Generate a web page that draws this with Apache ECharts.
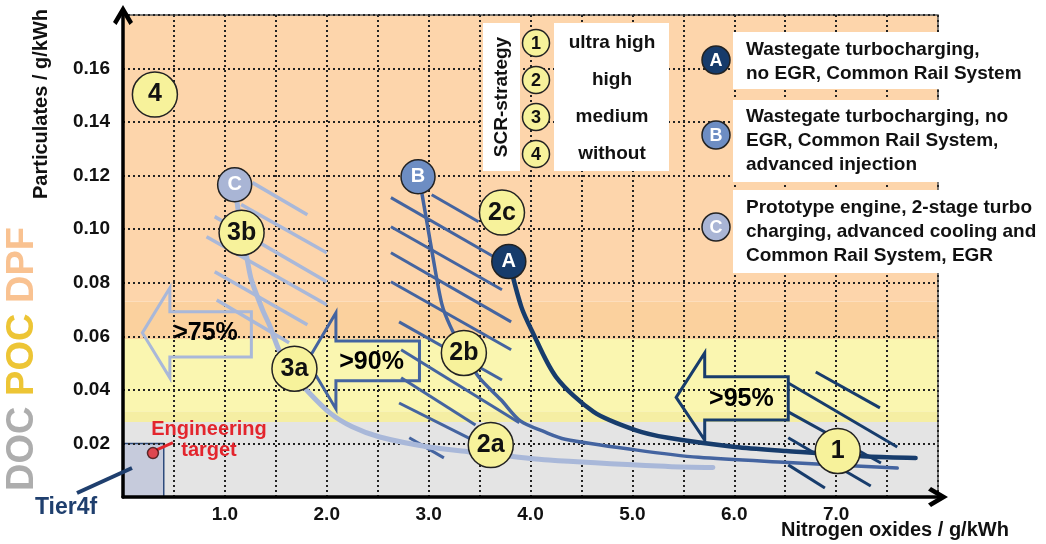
<!DOCTYPE html>
<html><head><meta charset="utf-8">
<script src="https://cdn.jsdelivr.net/npm/echarts@6/dist/echarts.min.js"></script>
<style>html,body{margin:0;padding:0;background:#fff}#c{width:1046px;height:544px}</style>
</head><body><div id="c"></div>
<script>
// ---------- data ----------
const xTickLabels = [1, 2, 3, 4, 5, 6, 7];
const yTickLabels = [0.02, 0.04, 0.06, 0.08, 0.10, 0.12, 0.14, 0.16];

// particulate bands (y ranges) : gray / yellow / yellow / orange / orange
const bandEdges = [0, 0.028, 0.032, 0.059, 0.073, 0.18];
const bandColors = ['#E4E4E4', '#F5EEA3', '#FAF6B0', '#FBD19E', '#FDD5AB'];
const tier4fBox = [[0, 0], [0.4, 0.02]];
const engineeringTarget = [0.294, 0.0164];
const engineeringPointer = [[0.33, 0.0176], [0.49, 0.0203]];

// engine curves (NOx, PM)
const curveA = [[3.79,0.0879],[3.91,0.0710],[4.01,0.0624],[4.25,0.0449],[4.62,0.0318],[5.03,0.0250],[5.35,0.0221],[6.01,0.0187],[6.51,0.0172],[7.31,0.0151],[7.78,0.0146]];
const curveB = [[2.90,0.1196],[2.94,0.1121],[3.03,0.0923],[3.13,0.0720],[3.21,0.0640],[3.35,0.0538],[3.49,0.0449],[3.71,0.0363],[3.90,0.0284],[4.14,0.0243],[4.34,0.0216],[5.03,0.0176],[5.65,0.0148],[6.53,0.0129],[7.60,0.0108]];
const curveC = [[1.10,0.1166],[1.16,0.0987],[1.21,0.0905],[1.26,0.0811],[1.37,0.0699],[1.44,0.0640],[1.53,0.0550],[1.66,0.0462],[1.80,0.0400],[2.03,0.0314],[2.25,0.0262],[2.52,0.0224],[3.00,0.0187],[3.43,0.0168],[4.18,0.0138],[5.35,0.0114],[5.79,0.0110]];

// hatch segments
const hatchA = [[[6.80,0.0467],[7.43,0.0333]],[[6.53,0.0426],[7.60,0.0187]],[[6.53,0.0318],[7.44,0.0127]],[[6.53,0.0221],[7.34,0.0041]],[[6.53,0.0120],[6.89,0.0034]]];
const hatchB = [[[3.03,0.1129],[3.49,0.1028]],[[2.63,0.1118],[3.64,0.0897]],[[2.63,0.1009],[3.72,0.0774]],[[2.63,0.0912],[3.81,0.0654]],[[2.63,0.0804],[3.81,0.0550]],[[2.71,0.0654],[3.72,0.0437]],[[2.73,0.0550],[3.89,0.0277]],[[2.73,0.0445],[3.46,0.0269]],[[2.71,0.0351],[3.43,0.0213]],[[2.81,0.0221],[3.15,0.0146]]];
const hatchC = [[[1.27,0.1174],[1.81,0.1054]],[[1.16,0.1092],[2.00,0.0912]],[[0.90,0.1047],[2.00,0.0804]],[[0.82,0.0972],[2.00,0.0718]],[[0.90,0.0841],[1.81,0.0643]],[[0.92,0.0736],[1.63,0.0576]]];

// reduction arrows (outline polygons)
const arrow75 = [[0.19,0.0613],[0.46,0.0781],[0.46,0.0692],[1.26,0.0692],[1.26,0.0523],[0.46,0.0523],[0.46,0.0445]];
const arrow90 = [[1.81,0.0508],[2.09,0.0688],[2.09,0.0583],[2.91,0.0583],[2.91,0.0434],[2.09,0.0434],[2.09,0.0329]];
const arrow95 = [[5.43,0.0372],[5.71,0.0538],[5.71,0.0449],[6.53,0.0449],[6.53,0.0288],[5.71,0.0288],[5.71,0.0213]];
const arrowLabels = [['>75%',0.81,0.0613],['>90%',2.44,0.0503],['>95%',6.07,0.0366]];

// SCR strategy markers and engine markers
const scrMarks = [['4',0.313,0.1503],['3b',1.164,0.0987],['3a',1.683,0.0479],['2c',3.72,0.1062],['2b',3.346,0.0538],['2a',3.61,0.0194],['1',7.016,0.0172]];
const engineMarks = [['C',1.096,0.1166],['B',2.896,0.1196],['A',3.787,0.0879]];

const scrLegend = ['ultra high', 'high', 'medium', 'without'];
const engineLegend = [
  ['A', 'Wastegate turbocharging,\nno EGR, Common Rail System'],
  ['B', 'Wastegate turbocharging, no\nEGR, Common Rail System,\nadvanced injection'],
  ['C', 'Prototype engine, 2-stage turbo\ncharging, advanced cooling and\nCommon Rail System, EGR']
];

// ---------- styles ----------
const FONT = "'Liberation Sans', Arial, Helvetica, sans-serif";
const colA = '#173C6C', colB = '#4464A0', colC = '#A9B8D9';
const fillA = '#163B6B', fillB = '#6D8DC3', fillC = '#A9B5D5';
const yellow = '#F7F29B';
const ARROW = 'path://M10,0 L20,17 L16.5,20 L10,9 L3.5,20 L0,17 Z';

const chart = echarts.init(document.getElementById('c'), null, {renderer: 'canvas'});

function isInt(v) { return Math.abs(v - Math.round(v)) < 1e-6; }

const bandAreas = bandColors.map((c, i) => [
  {xAxis: 0, yAxis: bandEdges[i], itemStyle: {color: c}},
  {xAxis: 8, yAxis: bandEdges[i + 1]}
]);
bandAreas.push([
  {coord: tier4fBox[0], itemStyle: {color: '#C6CBDC', borderColor: '#2D4B7C', borderWidth: 1.5}},
  {coord: tier4fBox[1]}
]);

function polygonSeries(pts, color, width) {
  return {
    type: 'custom', coordinateSystem: 'cartesian2d', silent: true, z: 5, clip: false,
    data: [0],
    renderItem: function (params, api) {
      return {type: 'polygon', shape: {points: pts.map(p => api.coord(p))},
        style: {fill: 'none', stroke: color, lineWidth: width, lineJoin: 'miter'}};
    }
  };
}
function hatchSeries(segs, color, width) {
  return {type: 'lines', coordinateSystem: 'cartesian2d', silent: true, z: 4, polyline: false,
    data: segs.map(s => ({coords: s})),
    lineStyle: {color: color, width: width, opacity: 1, curveness: 0}, effect: {show: false}};
}
function curveSeries(d, color, width) {
  return {type: 'line', data: d, symbol: 'none', smooth: 0.3, silent: true, z: 5,
    lineStyle: {color: color, width: width, cap: 'round', join: 'round'}};
}

const graphic = [];
const G = (o) => { o.z = 100; graphic.push(o); };
function txt(x, y, text, size, color, opts) {
  const o = Object.assign({type: 'text', x: x, y: y, style: {
    text: text, fill: color, font: 'bold ' + size + 'px ' + FONT,
    align: 'center', verticalAlign: 'middle', textAlign: 'center', textVerticalAlign: 'middle'}}, opts || {});
  G(o);
}
// axis titles
txt(41, 104, 'Particulates / g/kWh', 20, '#111', {rotation: Math.PI / 2});
txt(895, 530, 'Nitrogen oxides / g/kWh', 20, '#111');
// DOC POC DPF
G({type: 'text', x: 23, y: 359, rotation: Math.PI / 2, style: {
  text: '{a|DOC} {b|POC} {c|DPF}', font: 'bold 38px ' + FONT, fill: '#AFAFAF',
  align: 'center', verticalAlign: 'middle', textAlign: 'center', textVerticalAlign: 'middle',
  rich: {a: {fill: '#ADADAD', font: 'bold 38px ' + FONT},
         b: {fill: '#EDC535', font: 'bold 38px ' + FONT},
         c: {fill: '#F9C291', font: 'bold 38px ' + FONT}}}});
// Tier4f
txt(66, 508, 'Tier4f', 23, '#1F3F6E');
G({type: 'line', shape: {x1: 77, y1: 493, x2: 132, y2: 468}, style: {stroke: '#1F3F6E', lineWidth: 4}});
// Engineering target
G({type: 'text', x: 209, y: 440, style: {text: 'Engineering\ntarget', fill: '#E3252D',
  font: 'bold 20px ' + FONT, lineHeight: 21, align: 'center', verticalAlign: 'middle', textAlign: 'center', textVerticalAlign: 'middle'}});
// SCR legend
G({type: 'rect', shape: {x: 483, y: 23, width: 37, height: 148}, style: {fill: '#fff'}});
G({type: 'rect', shape: {x: 554, y: 23, width: 115, height: 148}, style: {fill: '#fff'}});
txt(502, 97, 'SCR-strategy', 19, '#111', {rotation: Math.PI / 2});
const scrLegendY = [43, 80, 117, 154];
scrLegend.forEach((s, i) => {
  G({type: 'circle', shape: {cx: 536, cy: scrLegendY[i], r: 13.5}, style: {fill: yellow, stroke: '#222', lineWidth: 1.5}});
  txt(536, scrLegendY[i] + 1, String(i + 1), 18, '#111');
  txt(612, scrLegendY[i], s, 19, '#111');
});
// engine legend
const engBox = [[32, 57], [100, 82], [190, 83]];
const engCy = [60, 135, 227];
const engTy = [62, 141, 232];
const engFill = {A: fillA, B: fillB, C: fillC};
engineLegend.forEach((e, i) => {
  G({type: 'rect', shape: {x: 733, y: engBox[i][0], width: 320, height: engBox[i][1]}, style: {fill: '#fff'}});
  G({type: 'circle', shape: {cx: 716, cy: engCy[i], r: 14}, style: {fill: engFill[e[0]], stroke: '#222', lineWidth: 1.5}});
  txt(716, engCy[i] + 1, e[0], 18, '#fff');
  G({type: 'text', x: 746, y: engTy[i], style: {text: e[1], fill: '#111', font: 'bold 19px ' + FONT,
    lineHeight: 24, align: 'left', verticalAlign: 'middle', textAlign: 'left', textVerticalAlign: 'middle'}});
});

const option = {
  animation: false,
  graphic: graphic,
  grid: {left: 123, right: 108, top: 15, bottom: 47, show: true, borderColor: '#555', borderWidth: 1.5,
    backgroundColor: 'transparent', z: 3},
  xAxis: {
    type: 'value', min: 0, max: 8, interval: 0.5, z: 3,
    axisLine: {show: true, onZero: false, symbol: ['none', ARROW], symbolSize: [20, 20],
      lineStyle: {color: '#000', width: 3.5}},
    axisTick: {show: false},
    axisLabel: {margin: 8, color: '#111', fontSize: 19, fontWeight: 'bold', fontFamily: FONT,
      formatter: v => (isInt(v) && xTickLabels.indexOf(Math.round(v)) >= 0) ? v.toFixed(1) : ''},
    splitLine: {show: true, lineStyle: {color: '#222', width: 2, type: [2, 3]}}
  },
  yAxis: {
    type: 'value', min: 0, max: 0.18, interval: 0.02, z: 3,
    axisLine: {show: true, onZero: false, symbol: ['none', ARROW], symbolSize: [20, 20],
      lineStyle: {color: '#000', width: 3.5}},
    axisTick: {show: false},
    axisLabel: {margin: 13, color: '#111', fontSize: 19, fontWeight: 'bold', fontFamily: FONT,
      formatter: v => yTickLabels.some(t => Math.abs(t - v) < 1e-6) ? v.toFixed(2) : ''},
    splitLine: {show: true, lineStyle: {color: '#222', width: 2, type: [2, 3]}}
  },
  series: [
    {type: 'line', data: [[0, 0]], symbol: 'none', silent: true, z: 1, lineStyle: {width: 0, opacity: 0},
      markArea: {silent: true, data: bandAreas}},
    hatchSeries(hatchC, colC, 3.5),
    hatchSeries(hatchB, colB, 3),
    hatchSeries(hatchA, colA, 3),
    curveSeries(curveC, colC, 5),
    curveSeries(curveB, colB, 3.5),
    curveSeries(curveA, colA, 4.5),
    polygonSeries(arrow75, colC, 3),
    polygonSeries(arrow90, colB, 3),
    polygonSeries(arrow95, colA, 3),
    {type: 'lines', coordinateSystem: 'cartesian2d', silent: true, z: 6,
      data: [{coords: engineeringPointer}], lineStyle: {color: '#E3252D', width: 3, opacity: 1}},
    {type: 'scatter', silent: true, z: 7, data: [engineeringTarget], symbolSize: 11,
      itemStyle: {color: '#E3252D', borderColor: '#3a1010', borderWidth: 1.5}},
    {type: 'custom', coordinateSystem: 'cartesian2d', silent: true, z: 8, clip: false,
      data: arrowLabels.map(d => [d[1], d[2]]),
      renderItem: function (params, api) {
        const p = api.coord([api.value(0), api.value(1)]);
        return {type: 'text', x: p[0], y: p[1], style: {text: arrowLabels[params.dataIndex][0],
          fill: '#000', font: 'bold 25px ' + FONT, align: 'center', verticalAlign: 'middle',
          textAlign: 'center', textVerticalAlign: 'middle'}};
      }},
    {type: 'scatter', silent: true, z: 9, symbolSize: 45,
      data: scrMarks.map(d => ({name: d[0], value: [d[1], d[2]]})),
      itemStyle: {color: yellow, borderColor: '#222', borderWidth: 1.5, opacity: 1},
      label: {show: true, position: 'inside', formatter: '{b}', color: '#111', fontSize: 25,
        fontWeight: 'bold', fontFamily: FONT, textBorderWidth: 0}},
    {type: 'scatter', silent: true, z: 9, symbolSize: 34,
      data: engineMarks.map(d => ({name: d[0], value: [d[1], d[2]], itemStyle: {color: engFill[d[0]]}})),
      itemStyle: {borderColor: '#222', borderWidth: 1.5, opacity: 1},
      label: {show: true, position: 'inside', formatter: '{b}', color: '#fff', fontSize: 20,
        fontWeight: 'bold', fontFamily: FONT, textBorderWidth: 0}}
  ]
};
chart.setOption(option);
</script></body></html>
